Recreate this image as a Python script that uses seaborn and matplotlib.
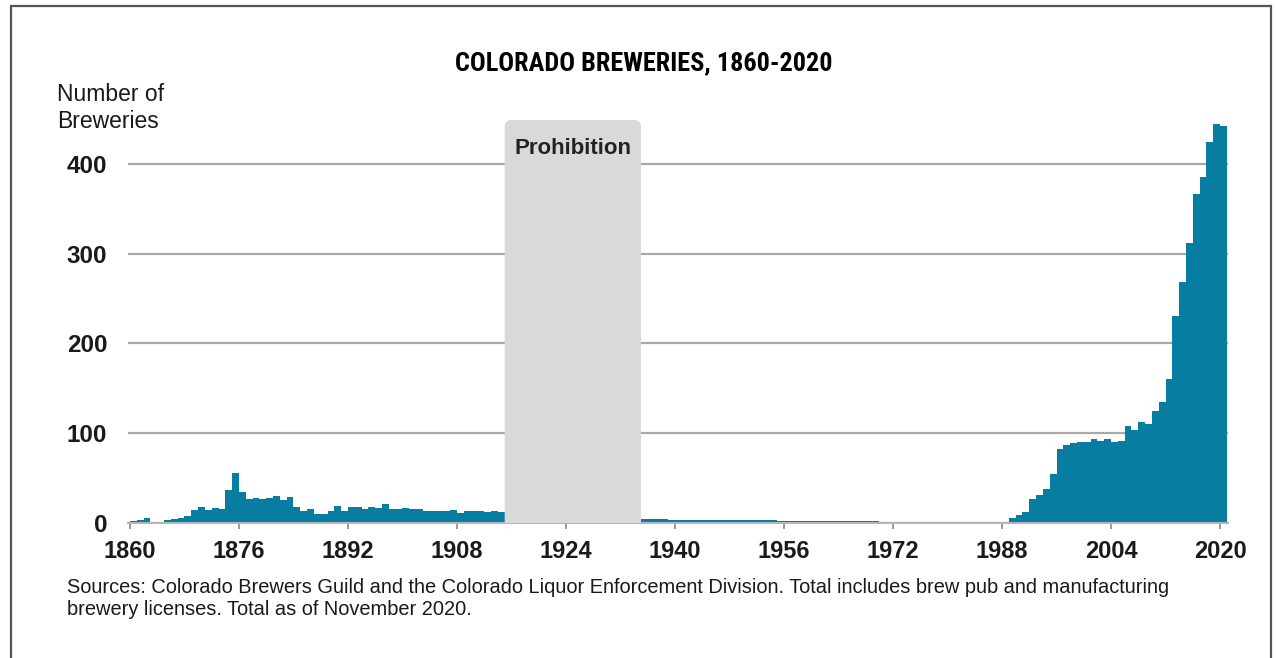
import numpy as np
import pandas as pd
import seaborn as sns
import matplotlib.pyplot as plt
from matplotlib.patches import FancyBboxPatch, Rectangle

# Data
years = list(range(1860, 2021))
breweries = [
    2, 3, 5, 1, 1, 3, 4, 5, 8, 14,            # 1860s
    17, 14, 16, 15, 37, 55, 34, 26, 27, 26,   # 1870s
    27, 30, 25, 29, 18, 13, 15, 10, 10, 13,   # 1880s
    19, 13, 17, 18, 15, 17, 16, 21, 15, 15,   # 1890s
    16, 15, 15, 13, 13, 13, 13, 14, 11, 13,   # 1900s
    13, 13, 12, 13, 12, 0, 0, 0, 0, 0,        # 1910s
    0, 0, 0, 0, 0, 0, 0, 0, 0, 0,             # 1920s
    0, 0, 0, 0, 0, 4, 4, 4, 4, 3,             # 1930s
    3, 3, 3, 3, 3, 3, 3, 3, 3, 3,             # 1940s
    3, 3, 3, 3, 3, 2, 2, 2, 2, 2,             # 1950s
    2, 2, 2, 2, 2, 2, 2, 2, 2, 2,             # 1960s
    1, 1, 1, 1, 1, 1, 0, 0, 0, 1,             # 1970s
    1, 1, 1, 1, 1, 1, 1, 1, 1, 5,             # 1980s
    9, 12, 26, 31, 38, 54, 82, 87, 89, 90,    # 1990s
    90, 93, 91, 93, 90, 91, 108, 103, 112, 110,  # 2000s
    124, 135, 160, 230, 268, 312, 366, 386, 425, 444,  # 2010s
    442,                                      # 2020
]
x_ticks = [1860, 1876, 1892, 1908, 1924, 1940, 1956, 1972, 1988, 2004, 2020]
y_ticks = [0, 100, 200, 300, 400]
prohibition = (1915, 1935)

title = "COLORADO BREWERIES, 1860-2020"
source_note = ("Sources: Colorado Brewers Guild and the Colorado Liquor Enforcement Division. "
               "Total includes brew pub and manufacturing\n"
               "brewery licenses. Total as of November 2020.")

df = pd.DataFrame({"year": years, "breweries": breweries})

sns.set_style("white")
plt.rcParams['font.family'] = ['Liberation Sans', 'DejaVu Sans']

fig = plt.figure(figsize=(12.76, 6.58), dpi=100)
ax = fig.add_axes([0.10031, 0.20562, 0.86207, 0.61337])

# bars, one per year: bin [year, year+1)
sns.histplot(data=df, x="year", weights="breweries", binwidth=1, binrange=(1860, 2021),
             element="step", fill=True, color="#077ea1", alpha=1,
             linewidth=0, ax=ax, zorder=2)

ax.set_xlim(1859.71, 2021.17)
ax.set_ylim(0, 450)
ax.set_xlabel("")
ax.set_ylabel("")

# grid and axes styling
ax.set_axisbelow(True)
ax.yaxis.grid(True, color="#a8a8a8", linewidth=1.6)
ax.xaxis.grid(False)
for side in ["top", "right", "left"]:
    ax.spines[side].set_visible(False)
ax.spines["bottom"].set_color("#b5b5b5")
ax.spines["bottom"].set_linewidth(1.5)

ax.set_xticks(x_ticks)
ax.set_xticklabels([str(t) for t in x_ticks], fontsize=17, fontweight="bold", color="#1a1a1a")
ax.set_yticks(y_ticks)
ax.set_yticklabels([str(t) for t in y_ticks], fontsize=17.5, fontweight="bold", color="#1a1a1a")
ax.tick_params(axis="x", bottom=True, length=4.5, width=1.4, color="#9a9a9a", pad=8)
ax.tick_params(axis="y", left=False, length=0, pad=15)

# prohibition box with rounded top corners
box = FancyBboxPatch((prohibition[0], -30), prohibition[1] - prohibition[0], 479,
                     boxstyle="round,pad=0,rounding_size=1", mutation_aspect=7.6,
                     facecolor="#d9d9d9", edgecolor="none", zorder=3)
ax.add_patch(box)
ax.text(sum(prohibition) / 2, 417, "Prohibition", ha="center", va="center",
        fontsize=16, fontweight="bold", color="#222222", zorder=4)

# texts
fig.text(0.5045, 0.9043, title, ha="center", va="center", fontsize=18.9,
         fontweight="bold",
         family=['Roboto Condensed', 'Liberation Sans Narrow', 'Liberation Sans'],
         color="#000000")
fig.text(0.0447, 0.874, "Number of\nBreweries", ha="left", va="top",
         fontsize=16.5, color="#1a1a1a")
fig.text(0.0525, 0.1216, source_note, ha="left", va="top", fontsize=14.4,
         color="#1a1a1a", linespacing=1.17)

# outer frame
frame = Rectangle((11 / 1276, -0.1), 1260 / 1276, 1.1 - 6 / 658,
                  transform=fig.transFigure, fill=False, edgecolor="#555555",
                  linewidth=1.6)
fig.add_artist(frame)

fig.savefig("out.png", dpi=100)
